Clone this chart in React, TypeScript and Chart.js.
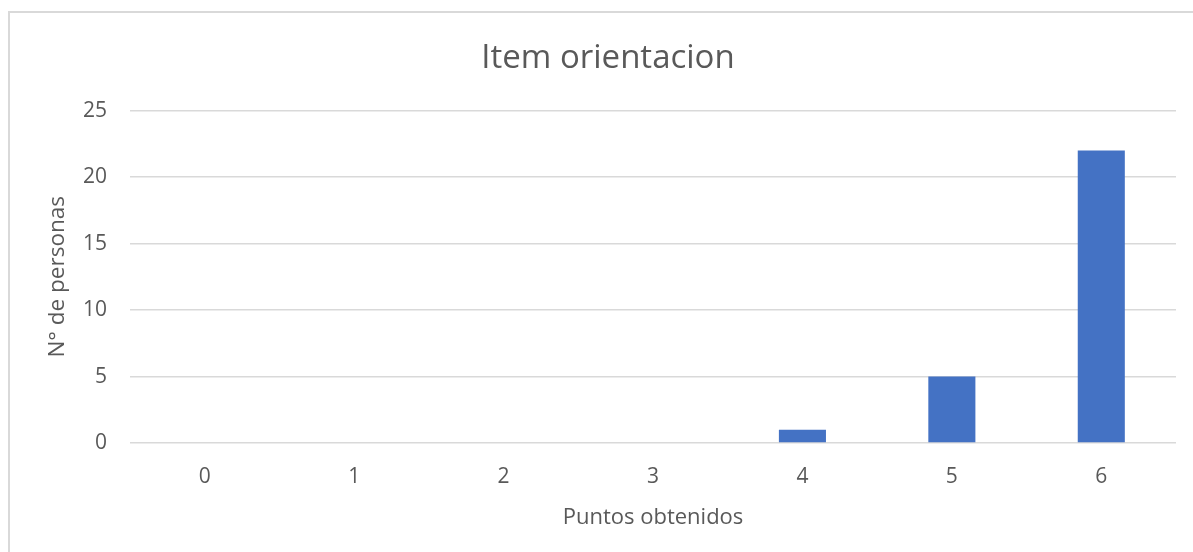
import React, { useEffect, useRef } from "react";
import { Chart, registerables } from "chart.js";

Chart.register(...registerables);

const categories = ["0", "1", "2", "3", "4", "5", "6"];
const personas = [0, 0, 0, 0, 1, 5, 22];
const chartTitle = "Item orientacion";
const xTitle = "Puntos obtenidos";
const yTitle = "N° de personas";

const FONT = "'Open Sans', sans-serif";
const TEXT = "#595959";
const GRID = "#d9d9d9";

export default function App() {
  const ref = useRef<HTMLCanvasElement | null>(null);

  useEffect(() => {
    document.body.style.overflow = "hidden";
    const canvas = ref.current;
    if (!canvas) return;
    const chart = new Chart(canvas, {
      type: "bar",
      data: {
        labels: categories,
        datasets: [
          {
            data: personas,
            backgroundColor: "#4472c4",
            borderWidth: 0,
            barPercentage: 0.315,
            categoryPercentage: 1,
          },
        ],
      },
      options: {
        animation: false,
        responsive: true,
        maintainAspectRatio: false,
        layout: { padding: { left: 0, right: 17, top: 0, bottom: 0 } },
        plugins: {
          legend: { display: false },
          tooltip: { enabled: false },
          title: {
            display: true,
            text: chartTitle,
            color: TEXT,
            font: { family: FONT, size: 33, weight: "normal" },
            padding: { top: 26, bottom: 32 },
          },
        },
        scales: {
          x: {
            grid: { display: false, drawTicks: false },
            border: { display: false },
            ticks: {
              color: TEXT,
              font: { family: FONT, size: 21 },
              padding: 21,
              maxRotation: 0,
            },
            title: {
              display: true,
              text: xTitle,
              color: TEXT,
              font: { family: FONT, size: 22 },
              padding: { top: 0, bottom: 21 },
            },
            afterFit: (s: any) => {
              s.height = 109;
            },
          },
          y: {
            min: 0,
            max: 25,
            grid: { color: GRID, lineWidth: 1.5, drawTicks: false },
            border: { display: false },
            ticks: {
              stepSize: 5,
              color: TEXT,
              font: { family: FONT, size: 21 },
              padding: 23,
            },
            title: {
              display: true,
              text: yTitle,
              color: TEXT,
              font: { family: FONT, size: 22.5 },
              padding: { top: 34, bottom: 0 },
            },
            afterFit: (s: any) => {
              s.width = 120;
            },
          },
          yRight: {
            position: "right",
            display: true,
            grid: { display: false, drawTicks: false },
            border: { display: false },
            ticks: { display: false },
            afterFit: (s: any) => {
              s.width = 30;
            },
          },
        },
      },
    });
    return () => chart.destroy();
  }, []);

  return (
    <div
      style={{
        position: "absolute",
        left: 8,
        top: 11,
        width: 1213,
        height: 539,
        borderTop: "2px solid #d9d9d9",
        borderLeft: "2px solid #d9d9d9",
        background: "#fff",
      }}
    >
      <canvas ref={ref} />
    </div>
  );
}
